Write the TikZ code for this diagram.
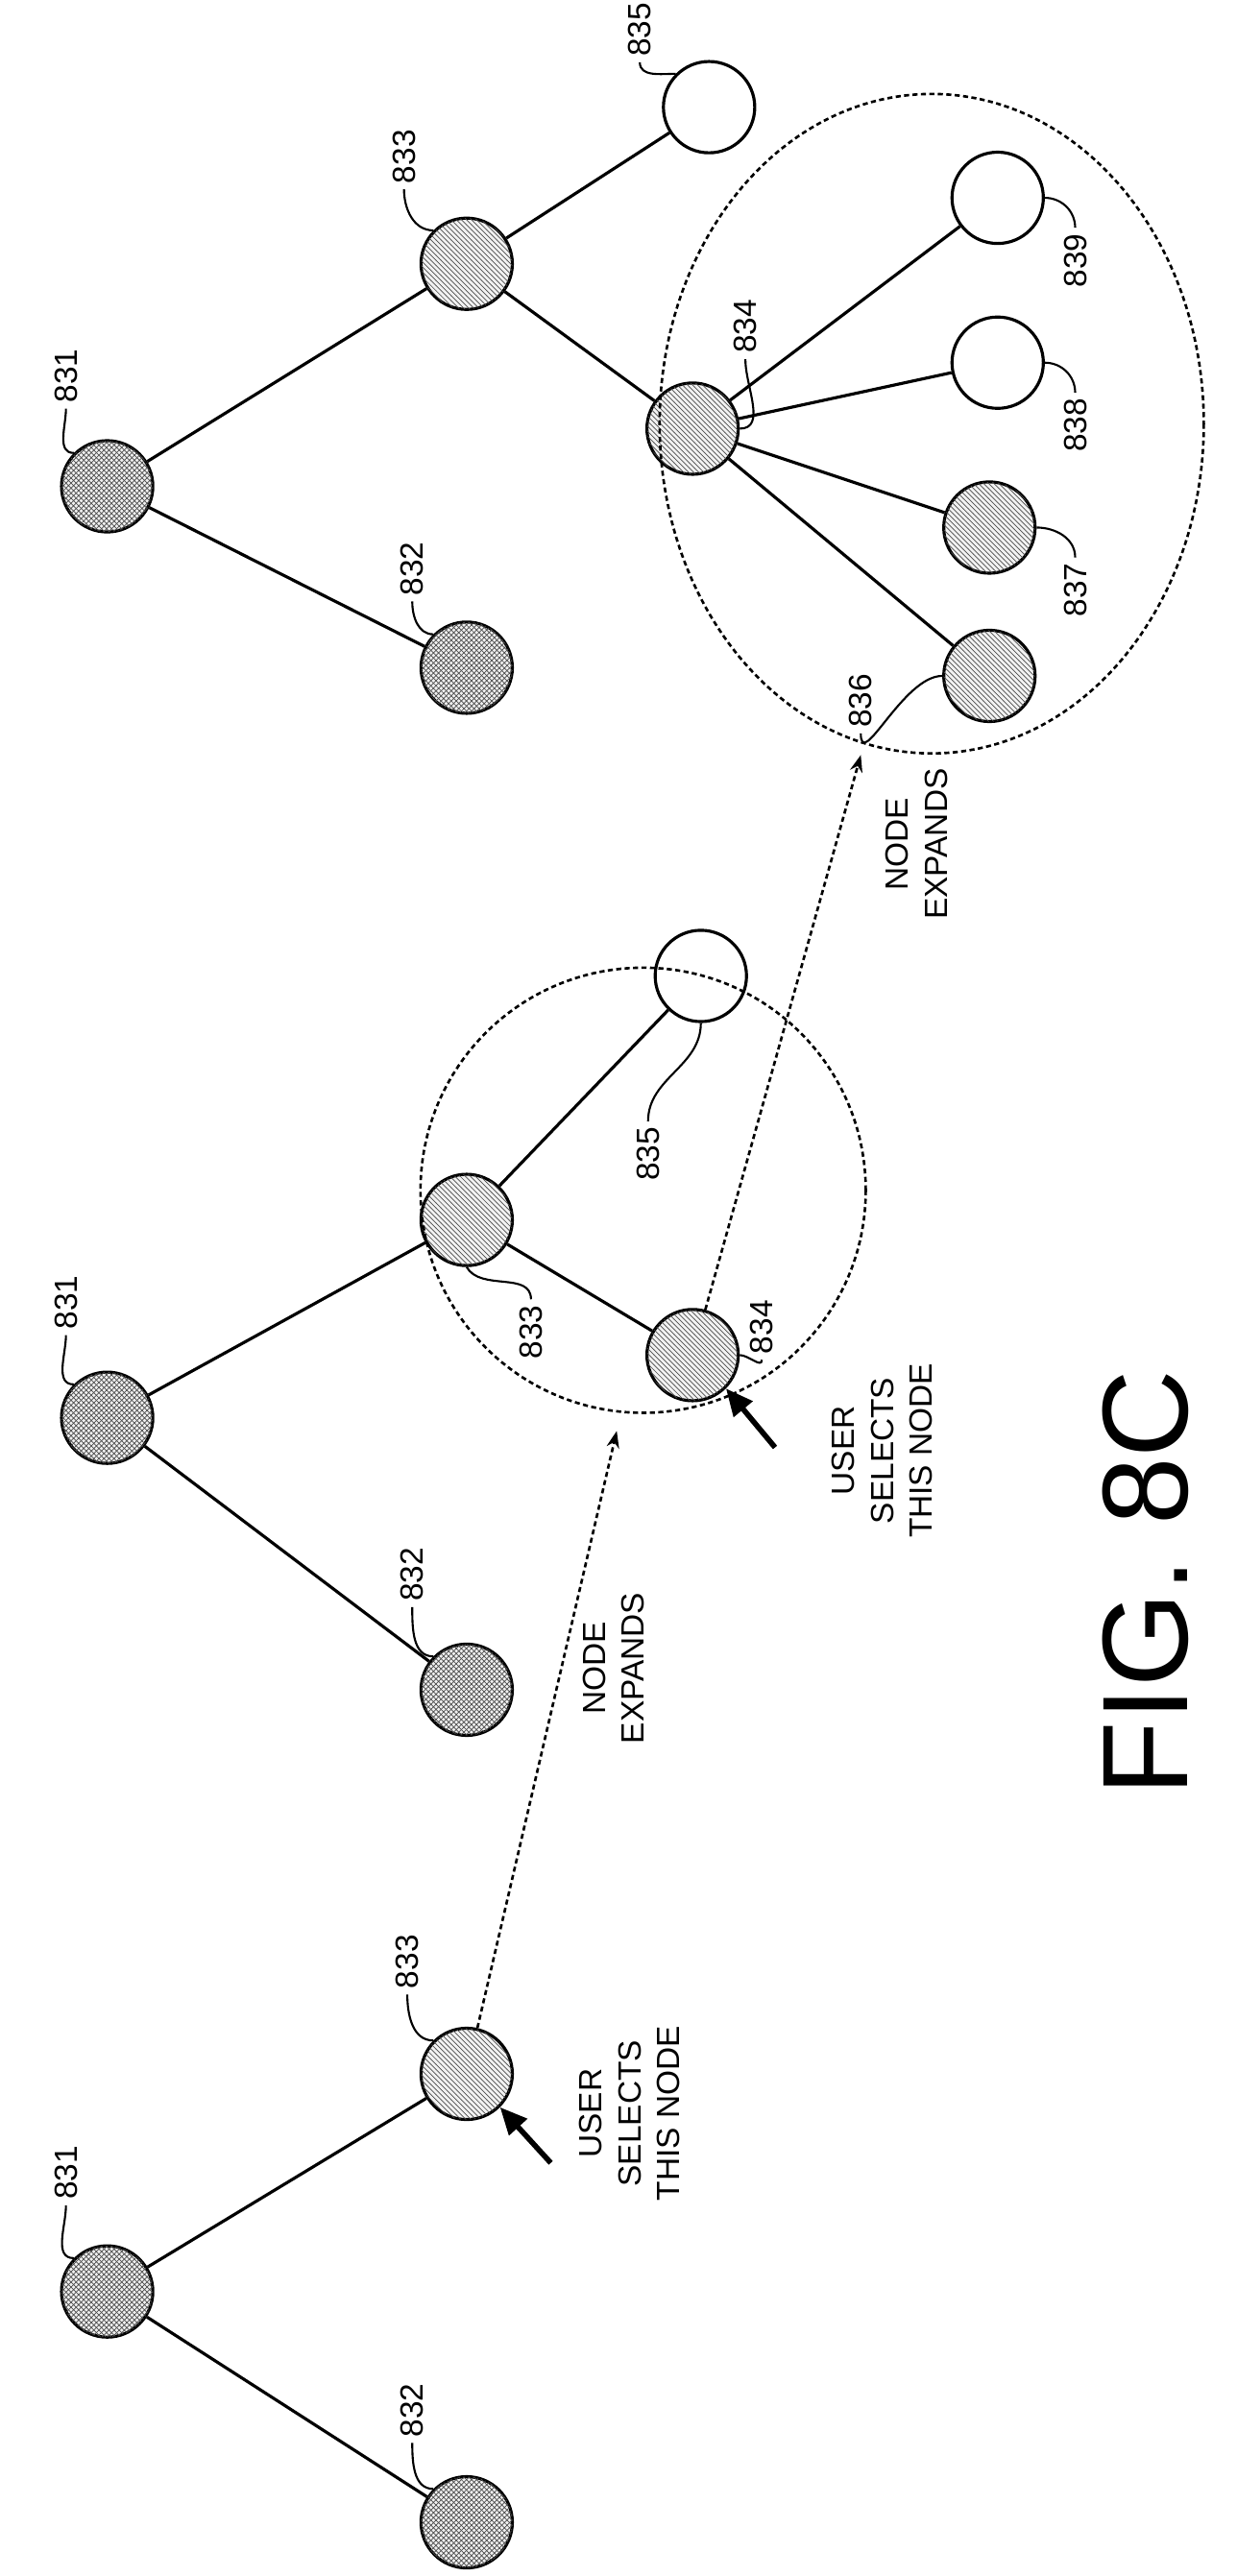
\documentclass[tikz,border=0pt]{standalone}
\usepackage{fontspec}
\setmainfont{Liberation Sans}
\usetikzlibrary{patterns, arrows.meta, positioning}
\begin{document}
\begin{tikzpicture}[x=0.0343cm, y=-0.0343cm,
    nd/.style={circle, draw, line width=1.8pt, minimum size=1.9cm, inner sep=0pt},
    hatch/.style={nd, fill=gray!12, postaction={pattern=crosshatch, pattern color=black!70}},
    stripe/.style={nd, fill=gray!10, postaction={pattern=north west lines, pattern color=black!70}},
    empty/.style={nd, fill=white},
    lbl/.style={rotate=90, font=\fontsize{19}{22}\selectfont},
    txt/.style={rotate=90, font=\fontsize{19}{23}\selectfont, align=center},
    edge/.style={line width=1.8pt},
    lead/.style={line width=1.2pt},
    dot/.style={line width=1.5pt, dash pattern=on 3pt off 2pt},
    sel/.style={-{Triangle[length=16pt,width=14pt]}, line width=3.2pt}]
    \useasboundingbox (0,0) rectangle (750,1562.6);

    % first tree
    \node[hatch] (a1) at (65,1390) {};
    \node[hatch] (a2) at (283,1530) {};
    \node[stripe] (a3) at (283,1258) {};
    \draw[edge] (a1) -- (a2);
    \draw[edge] (a1) -- (a3);
    \node[lbl] (la1) at (40,1318) {831};
    \node[lbl] (la2) at (250,1462) {832};
    \node[lbl] (la3) at (247,1190) {833};
    \draw[lead] (la1.west) to[out=-90,in=180] (a1.north west);
    \draw[lead] (la2.west) to[out=-90,in=180] (a2.north west);
    \draw[lead] (la3.west) to[out=-90,in=180] (a3.north west);
    \coordinate (s1) at (334,1312);
    \draw[sel] (s1) -- (a3.south east);
    \node[txt] (t1) at (382,1282) {USER\\SELECTS\\THIS NODE};

    % second tree
    \node[hatch] (b1) at (65,860) {};
    \node[hatch] (b2) at (283,1025) {};
    \node[stripe] (b3) at (283,740) {};
    \node[stripe] (b4) at (420,822) {};
    \node[empty] (b5) at (425,592) {};
    \draw[edge] (b1) -- (b2);
    \draw[edge] (b1) -- (b3);
    \draw[edge] (b3) -- (b4);
    \draw[edge] (b3) -- (b5);
    \draw[dot] (390,722) circle (135);
    \coordinate (c2) at (374,868);
    \draw[dot, -{Stealth[length=10pt]}] (a3) -- (c2);
    \node[txt] (e1) at (372,1012) {NODE\\EXPANDS};
    \node[lbl] (lb1) at (40,790) {831};
    \node[lbl] (lb2) at (250,955) {832};
    \node[lbl] (lb3) at (322,808) {833};
    \node[lbl] (lb4) at (462,805) {834};
    \node[lbl] (lb5) at (393,700) {835};
    \draw[lead] (lb1.west) to[out=-90,in=180] (b1.north west);
    \draw[lead] (lb2.west) to[out=-90,in=180] (b2.north west);
    \draw[lead] (lb3.east) to[out=90,in=-60] (b3.south);
    \draw[lead] (lb4.west) to[out=-90,in=0] (b4.east);
    \draw[lead] (lb5.east) to[out=90,in=-90] (b5.south);
    \coordinate (s2) at (470,878);
    \draw[sel] (s2) -- (b4.south east);
    \node[txt] (t2) at (535,880) {USER\\SELECTS\\THIS NODE};

    % third tree
    \node[hatch] (d1) at (65,295) {};
    \node[hatch] (d2) at (283,405) {};
    \node[stripe] (d3) at (283,160) {};
    \node[stripe] (d4) at (420,260) {};
    \node[empty] (d5) at (430,65) {};
    \node[stripe] (d6) at (600,410) {};
    \node[stripe] (d7) at (600,320) {};
    \node[empty] (d8) at (605,220) {};
    \node[empty] (d9) at (605,120) {};
    \draw[edge] (d1) -- (d2);
    \draw[edge] (d1) -- (d3);
    \draw[edge] (d3) -- (d4);
    \draw[edge] (d3) -- (d5);
    \foreach \k in {6,7,8,9} \draw[edge] (d4) -- (d\k);
    \draw[dot] (565,257) ellipse (165 and 200);
    \coordinate (c3) at (522,458);
    \draw[dot, -{Stealth[length=10pt]}] (b4) -- (c3);
    \node[txt] (e2) at (556,512) {NODE\\EXPANDS};
    \node[lbl] (ld1) at (40,228) {831};
    \node[lbl] (ld2) at (250,345) {832};
    \node[lbl] (ld3) at (245,95) {833};
    \node[lbl] (ld4) at (452,198) {834};
    \node[lbl] (ld5) at (388,18) {835};
    \node[lbl] (ld6) at (522,425) {836};
    \node[lbl] (ld7) at (652,358) {837};
    \node[lbl] (ld8) at (652,258) {838};
    \node[lbl] (ld9) at (652,158) {839};
    \draw[lead] (ld1.west) to[out=-90,in=180] (d1.north west);
    \draw[lead] (ld2.west) to[out=-90,in=180] (d2.north west);
    \draw[lead] (ld3.west) to[out=-90,in=180] (d3.north west);
    \draw[lead] (ld4.west) to[out=-90,in=0] (d4.east);
    \draw[lead] (ld5.west) to[out=-90,in=180] (d5.north west);
    \draw[lead] (ld6.west) to[out=-90,in=180] (d6.west);
    \draw[lead] (ld7.east) to[out=90,in=0] (d7.east);
    \draw[lead] (ld8.east) to[out=90,in=0] (d8.east);
    \draw[lead] (ld9.east) to[out=90,in=0] (d9.east);

    \node[rotate=90, font=\fontsize{72}{76}\selectfont] (fig) at (695,960) {FIG. 8C};
\end{tikzpicture}
\end{document}
